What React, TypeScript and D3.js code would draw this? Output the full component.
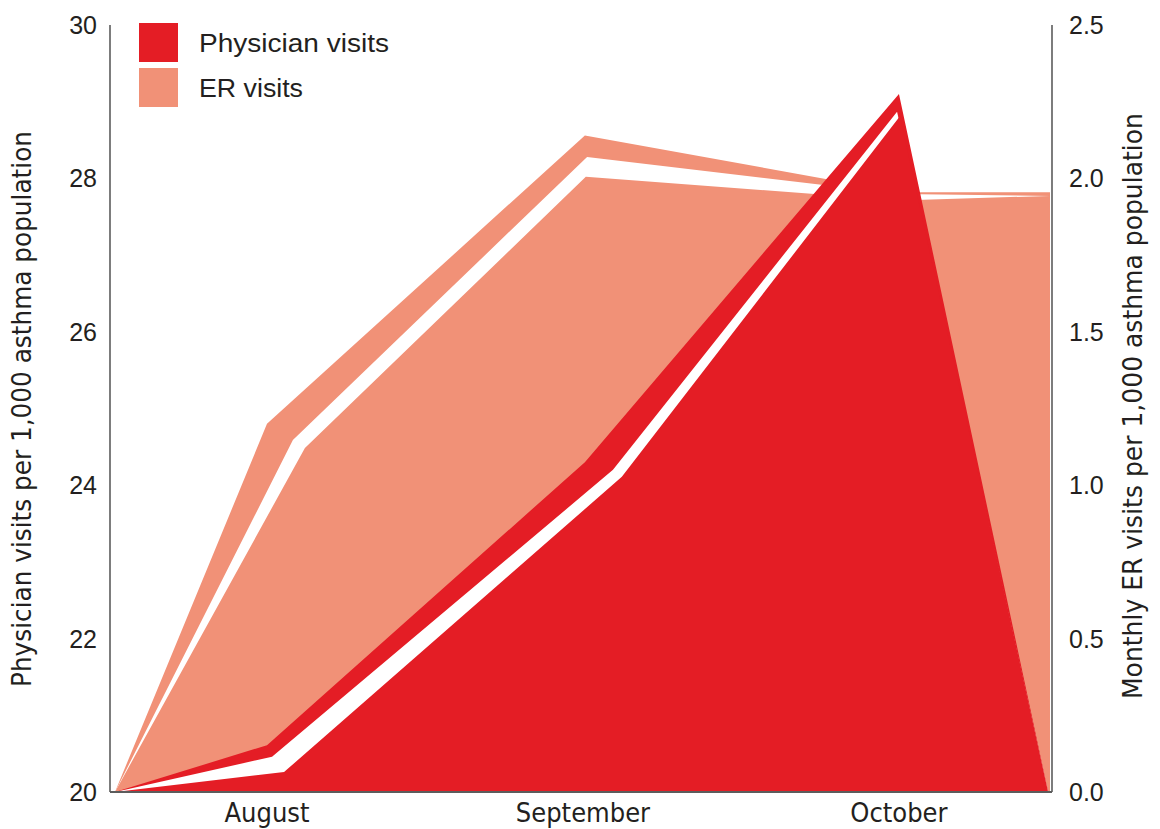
import React from "react";
import * as d3 from 'd3';

// month axis (label positions are month index)
const months = ['August', 'September', 'October'];
const monthPos = [1, 2, 3];
const xDomain = [0.519, 3.478];

// Physician visits per 1,000 (left axis) - outer edge, white gap edge, inner edge
const physicianX      = [0.519, 1.0,   2.006, 3.0,   3.472];
const physicianVisits = [20,    20.61, 24.3,  29.1,  20];
const physicianGapX   = [0.519, 1.016, 2.095, 2.994, 3.472];
const physicianGap    = [20,    20.46, 24.2,  28.87, 20];
const physicianInX    = [0.519, 1.054, 2.123, 3.003, 3.472];
const physicianIn     = [20,    20.26, 24.11, 28.81, 20];

// Monthly ER visits per 1,000 (right axis)
const erX      = [0.519, 1.0,   2.006, 3.0,   3.478];
const erVisits = [0,     1.2,   2.14,  1.955, 1.955];
const erGapX   = [0.519, 1.082, 2.013, 3.003, 3.478];
const erGap    = [0,     1.147, 2.07,  1.949, 1.943];
const erInX    = [0.519, 1.12,  2.009, 3.003, 3.478];
const erIn     = [0,     1.121, 2.005, 1.928, 1.943];

const leftTicks  = [20, 22, 24, 26, 28, 30];
const rightTicks = [0, 0.5, 1.0, 1.5, 2.0, 2.5];

const legendItems = ['Physician visits', 'ER visits'];
const legendWidths = [190, 104];

class App extends React.Component<{}, {}> {
    renderd: boolean = false;
    myRef: React.RefObject<HTMLDivElement>;

    width  : number = 1160;
    height : number =  829;

    constructor(props: {}) {
        super(props);
        this.myRef = React.createRef();
    }

    componentDidMount() {
        if (this.renderd) {
            return;
        }
        const colors = ['#e41d25', '#f19177', '#ffffff', '#5c5c5c', '#231f20'];
        const condensed = '"Liberation Sans Narrow", "DejaVu Sans Condensed", "Liberation Sans", sans-serif';
        const regular = '"Liberation Sans", Arial, sans-serif';

        const svg = d3.select(this.myRef.current).append('svg')
            .attr('width', this.width).attr('height', this.height)
            .style('position', 'absolute').style('left', '0px').style('top', '0px');

        const x = d3.scaleLinear().domain(xDomain).range([115, 1050]);
        const yL = d3.scaleLinear().domain([20, 30]).range([792, 25]);
        const yR = d3.scaleLinear().domain([0, 2.5]).range([792, 25]);

        const drawArea = (xs: number[], vs: number[], y: d3.ScaleLinear<number, number>, base: number, fill: string) => {
            const area = d3.area<number>()
                .x((d, i) => x(xs[i]))
                .y0(y(base))
                .y1((d) => y(d));
            svg.append('path').attr('d', area(vs) as string).attr('fill', fill);
        };

        // ER visits (behind)
        drawArea(erX, erVisits, yR, 0, colors[1]);
        drawArea(erGapX, erGap, yR, 0, colors[2]);
        drawArea(erInX, erIn, yR, 0, colors[1]);

        // physician visits (front)
        drawArea(physicianX, physicianVisits, yL, 20, colors[0]);
        drawArea(physicianGapX, physicianGap, yL, 20, colors[2]);
        drawArea(physicianInX, physicianIn, yL, 20, colors[0]);

        // axis lines
        const axisG = svg.append('g').attr('stroke', colors[3]).attr('stroke-width', 1.6);
        axisG.append('line').attr('x1', 110).attr('x2', 110).attr('y1', yL(30)).attr('y2', yL(20));
        axisG.append('line').attr('x1', 1052).attr('x2', 1052).attr('y1', yR(2.5)).attr('y2', yR(0));
        axisG.append('line').attr('x1', 110).attr('x2', 1052).attr('y1', yL(20)).attr('y2', yL(20)).attr('stroke-width', 2.2);

        // tick labels
        svg.append('g').selectAll('text').data(leftTicks).enter().append('text')
            .attr('x', 97).attr('y', (d: number) => yL(d))
            .attr('dy', '0.36em')
            .attr('text-anchor', 'end')
            .attr('font-family', regular).attr('font-size', 25)
            .attr('fill', colors[4])
            .text((d: number) => d);

        svg.append('g').selectAll('text').data(rightTicks).enter().append('text')
            .attr('x', 1069).attr('y', (d: number) => yR(d))
            .attr('dy', '0.36em')
            .attr('text-anchor', 'start')
            .attr('font-family', regular).attr('font-size', 25)
            .attr('fill', colors[4])
            .text((d: number) => d3.format('.1f')(d));

        // month labels
        svg.append('g').selectAll('text').data(months).enter().append('text')
            .attr('x', (d: string, i: number) => x(monthPos[i]))
            .attr('y', 822)
            .attr('text-anchor', 'middle')
            .attr('font-family', condensed).attr('font-size', 27)
            .attr('fill', colors[4])
            .text((d: string) => d);

        // axis titles
        svg.append('text')
            .attr('transform', 'translate(31, 409) rotate(-90)')
            .attr('text-anchor', 'middle')
            .attr('font-family', condensed).attr('font-size', 27)
            .attr('fill', colors[4])
            .attr('textLength', 556).attr('lengthAdjust', 'spacingAndGlyphs')
            .text('Physician visits per 1,000 asthma population');

        svg.append('text')
            .attr('transform', 'translate(1142, 406) rotate(-90)')
            .attr('text-anchor', 'middle')
            .attr('font-family', condensed).attr('font-size', 27)
            .attr('fill', colors[4])
            .attr('textLength', 586).attr('lengthAdjust', 'spacingAndGlyphs')
            .text('Monthly ER visits per 1,000 asthma population');

        // legend
        const lg = svg.append('g').attr('transform', 'translate(139, 23)');
        lg.selectAll('rect').data(legendItems).enter().append('rect')
            .attr('x', 0).attr('y', (d: string, i: number) => i * 45)
            .attr('width', 39).attr('height', 39)
            .attr('fill', (d: string, i: number) => colors[i]);
        lg.selectAll('text').data(legendItems).enter().append('text')
            .attr('x', 60).attr('y', (d: string, i: number) => i * 45 + 29)
            .attr('font-family', regular).attr('font-size', 26.5)
            .attr('fill', colors[4])
            .attr('textLength', (d: string, i: number) => legendWidths[i])
            .attr('lengthAdjust', 'spacingAndGlyphs')
            .text((d: string) => d);

        this.renderd = true;
    }

    render() {
        return <div ref={this.myRef}/>;
    }
}

export default App;
